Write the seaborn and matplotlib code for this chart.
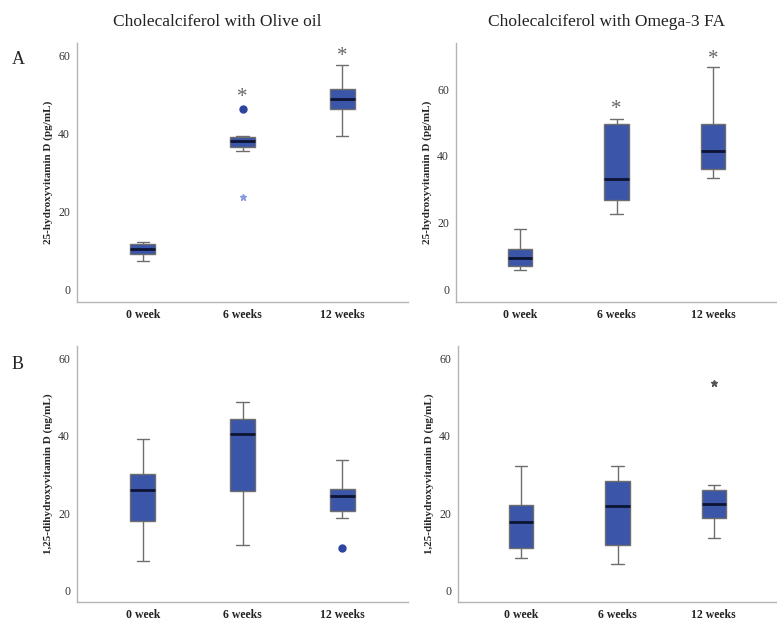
import numpy as np
import pandas as pd
import matplotlib
matplotlib.use("Agg")
import matplotlib.pyplot as plt
import seaborn as sns

# categories
weeks = ["0 week", "6 weeks", "12 weeks"]

# values (9 per group, quartiles/whiskers/outliers match the boxes)
olive_25 = [
    [7.3, 8.4, 9.0, 9.6, 10.2, 10.9, 11.6, 11.8, 12.0],
    [23.7, 35.5, 36.6, 37.4, 38.0, 38.6, 39.1, 39.3, 46.4],
    [39.3, 44.0, 46.3, 47.8, 48.9, 50.2, 51.4, 54.5, 57.6],
]
omega_25 = [
    [6.0, 6.6, 7.1, 8.4, 9.5, 10.8, 12.2, 15.0, 18.0],
    [22.7, 24.8, 26.7, 30.0, 33.2, 42.0, 49.7, 50.4, 51.0],
    [33.5, 35.0, 36.2, 39.0, 41.6, 45.5, 49.7, 58.0, 66.5],
]
olive_125 = [
    [7.7, 13.0, 17.9, 22.0, 26.0, 28.0, 30.2, 35.0, 39.1],
    [11.7, 19.0, 25.8, 33.0, 40.4, 42.3, 44.2, 46.5, 48.8],
    [10.9, 18.8, 20.5, 22.4, 24.3, 25.2, 26.2, 30.0, 33.8],
]
omega_125 = [
    [8.4, 9.7, 11.0, 14.4, 17.7, 19.8, 22.0, 27.0, 32.2],
    [6.8, 9.2, 11.7, 16.8, 21.9, 25.2, 28.4, 30.3, 32.2],
    [13.5, 16.0, 18.8, 20.6, 22.4, 24.2, 25.9, 27.2, 53.6],
]

# significance stars (group index, y)
olive_sig = [(1, 49.4), (2, 59.8)]
omega_sig = [(1, 53.8), (2, 69.0)]

titles = ["Cholecalciferol with Olive oil", "Cholecalciferol with Omega-3 FA"]
ylab_25 = "25-hydroxyvitamin D (pg/mL)"
ylab_125 = "1,25-dihydroxyvitamin D (ng/mL)"

box_color = "#3B55A8"
edge_gray = "#6e6e6e"
spine_gray = "#b4b4b4"

sns.set_style("white")
plt.rcParams["font.family"] = ["Liberation Serif", "DejaVu Serif"]

fig = plt.figure(figsize=(7.77, 6.21), dpi=100)
W, H = 777, 621


def add_ax(left, right, top, bottom):
    return fig.add_axes([left / W, 1 - bottom / H, (right - left) / W, (bottom - top) / H])


def to_long(groups):
    rows = []
    for wk, vals in zip(weeks, groups):
        for v in vals:
            rows.append({"week": wk, "value": v})
    return pd.DataFrame(rows)


def panel(ax, groups, ylim, ylabel, star_color, sig=None):
    df = to_long(groups)
    sns.boxplot(data=df, x="week", y="value", order=weeks, ax=ax, width=0.25,
                color=box_color, linecolor=edge_gray, linewidth=1.0, saturation=1,
                showfliers=False, whis=1.5,
                medianprops=dict(color="#0d1533", linewidth=2.0))
    # SPSS-style outliers: circle beyond 1.5 IQR, star beyond 3 IQR
    for i, vals in enumerate(groups):
        vals = np.array(vals)
        q1, q3 = np.percentile(vals, [25, 75])
        iqr = q3 - q1
        for v in vals:
            if v > q3 + 3 * iqr or v < q1 - 3 * iqr:
                ax.plot(i, v, marker="*", ms=5, color=star_color, mec=star_color, ls="none")
            elif v > q3 + 1.5 * iqr or v < q1 - 1.5 * iqr:
                ax.plot(i, v, marker="o", ms=5, color="#2c45a0", ls="none")
    if sig:
        for i, y in sig:
            ax.text(i, y, "*", ha="center", va="center", fontsize=15, color="#666666")
    ax.set_xlim(-0.66, 2.66)
    ax.set_ylim(*ylim)
    ax.set_yticks([0, 20, 40, 60])
    ax.set_xlabel("")
    ax.set_ylabel(ylabel, fontsize=8, fontweight="bold", labelpad=4)
    for s in ["top", "right"]:
        ax.spines[s].set_visible(False)
    for s in ["left", "bottom"]:
        ax.spines[s].set_color(spine_gray)
        ax.spines[s].set_linewidth(1.0)
    ax.tick_params(axis="y", length=4, width=0.8, color="#888888", labelsize=8.5,
                   labelcolor="#333333", pad=1)
    ax.tick_params(axis="x", length=3, width=0.8, color="#888888", labelsize=8.5,
                   labelcolor="#222222", pad=2)
    for lab in ax.get_xticklabels():
        lab.set_fontweight("bold")


ax1 = add_ax(77, 408, 43, 302)
ax2 = add_ax(456, 777, 43, 302)
ax3 = add_ax(77, 408, 346, 602)
ax4 = add_ax(458, 777, 346, 602)

panel(ax1, olive_25, (-3.3, 63.3), ylab_25, "#8a9ae0", olive_sig)
panel(ax2, omega_25, (-3.7, 73.8), ylab_25, "#555555", omega_sig)
panel(ax3, olive_125, (-3.0, 63.2), ylab_125, "#555555")
panel(ax4, omega_125, (-3.0, 63.2), ylab_125, "#555555")

fig.text(217 / W, 1 - 22 / H, titles[0], ha="center", va="center", fontsize=12.5, color="#222222")
fig.text(607 / W, 1 - 22 / H, titles[1], ha="center", va="center", fontsize=12.5, color="#222222")
fig.text(18 / W, 1 - 60 / H, "A", ha="center", va="center", fontsize=13, color="#222222")
fig.text(18 / W, 1 - 365 / H, "B", ha="center", va="center", fontsize=13, color="#222222")

fig.savefig("out.png", dpi=100)
